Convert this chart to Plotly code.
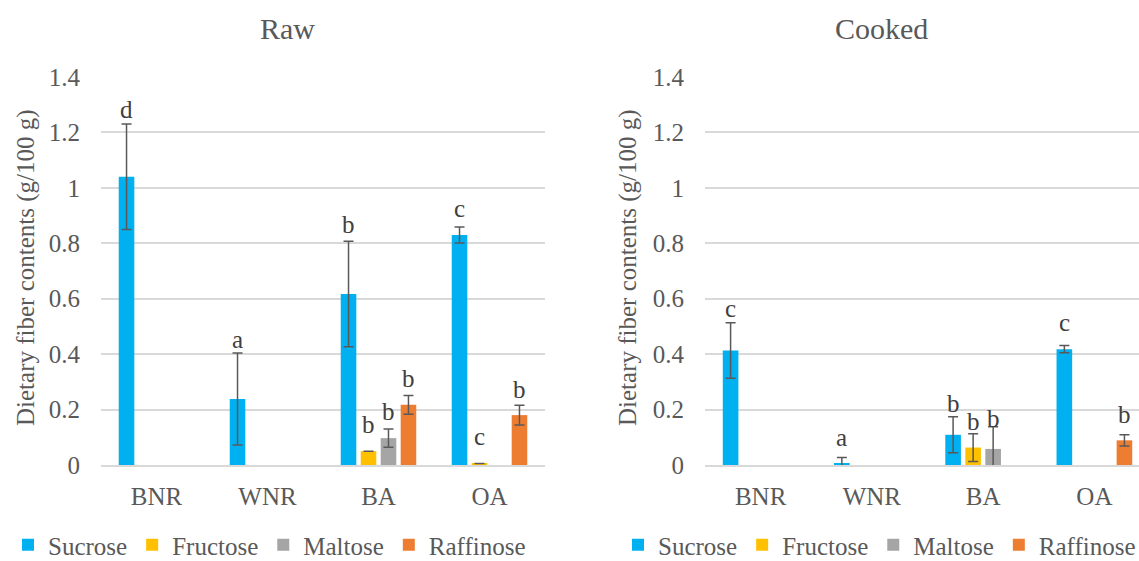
import plotly.graph_objects as go

categories = ["BNR", "WNR", "BA", "OA"]
series_names = ["Sucrose", "Fructose", "Maltose", "Raffinose"]
colors = ["#00B0F0", "#FFC000", "#A5A5A5", "#ED7D31"]

# Raw values (g/100 g) and standard deviations (None = not reported)
raw_sucrose = [1.04, 0.238, 0.617, 0.830]
raw_fructose = [None, None, 0.05, 0.005]
raw_maltose = [None, None, 0.097, None]
raw_raffinose = [None, None, 0.217, 0.180]
raw_sucrose_err = [0.19, 0.166, 0.19, 0.029]
raw_fructose_err = [None, None, None, None]
raw_maltose_err = [None, None, 0.033, None]
raw_raffinose_err = [None, None, 0.034, 0.036]

# Cooked values
cooked_sucrose = [0.413, 0.007, 0.109, 0.418]
cooked_fructose = [None, None, 0.063, None]
cooked_maltose = [None, None, 0.058, None]
cooked_raffinose = [None, None, None, 0.089]
cooked_sucrose_err = [0.10, 0.02, 0.065, 0.013]
cooked_fructose_err = [None, None, 0.05, None]
cooked_maltose_err = [None, None, 0.08, None]
cooked_raffinose_err = [None, None, None, 0.02]

# Significance letters: (category, series index, letter, baseline y)
raw_letters = [("BNR", 0, "d", 1.252), ("WNR", 0, "a", 0.422), ("BA", 0, "b", 0.837),
               ("BA", 1, "b", 0.115), ("BA", 2, "b", 0.162), ("BA", 3, "b", 0.28),
               ("OA", 0, "c", 0.895), ("OA", 1, "c", 0.072), ("OA", 3, "b", 0.242)]
cooked_letters = [("BNR", 0, "c", 0.533), ("WNR", 0, "a", 0.070), ("BA", 0, "b", 0.19),
                  ("BA", 1, "b", 0.125), ("BA", 2, "b", 0.136), ("OA", 0, "c", 0.483),
                  ("OA", 3, "b", 0.15)]

y_ticks = [0, 0.2, 0.4, 0.6, 0.8, 1.0, 1.2, 1.4]
y_tick_text = ["0", "0.2", "0.4", "0.6", "0.8", "1", "1.2", "1.4"]

W, H = 1139, 561
TXT = "#595959"
FONT = "Liberation Serif"

raw_vals = [raw_sucrose, raw_fructose, raw_maltose, raw_raffinose]
raw_errs = [raw_sucrose_err, raw_fructose_err, raw_maltose_err, raw_raffinose_err]
ck_vals = [cooked_sucrose, cooked_fructose, cooked_maltose, cooked_raffinose]
ck_errs = [cooked_sucrose_err, cooked_fructose_err, cooked_maltose_err, cooked_raffinose_err]

fig = go.Figure()
for i, name in enumerate(series_names):
    fig.add_trace(go.Bar(
        x=categories, y=raw_vals[i], name=name, marker_color=colors[i],
        marker_line_width=0, xaxis="x", yaxis="y", legend="legend",
        error_y=dict(type="data", array=raw_errs[i], visible=True,
                     color="#595959", thickness=1.5, width=5),
        offsetgroup=str(i),
    ))
for i, name in enumerate(series_names):
    fig.add_trace(go.Bar(
        x=categories, y=ck_vals[i], name=name, marker_color=colors[i],
        marker_line_width=0, xaxis="x2", yaxis="y2", legend="legend2",
        error_y=dict(type="data", array=ck_errs[i], visible=True,
                     color="#595959", thickness=1.5, width=5),
        offsetgroup=str(i),
    ))

x1_dom = [101 / W, 545 / W]
x2_dom = [705 / W, 1.0]
y_dom = [(H - 465) / H, (H - 77) / H]

group_frac = 0.72
slot = group_frac / 4
annotations = []
for letters, xref, yref in [(raw_letters, "x", "y"), (cooked_letters, "x2", "y2")]:
    for cat, si, letter, yb in letters:
        xpos = categories.index(cat) - group_frac / 2 + slot * (si + 0.5)
        annotations.append(dict(
            x=xpos, y=yb, xref=xref, yref=yref, text=letter, showarrow=False,
            yanchor="bottom", yshift=-7, font=dict(family=FONT, size=25, color="#404040"),
        ))

annotations += [
    dict(x=287 / W, y=1 - 28 / H, xref="paper", yref="paper", text="Raw", showarrow=False,
         xanchor="center", yanchor="middle", font=dict(family=FONT, size=30, color=TXT)),
    dict(x=881 / W, y=1 - 28 / H, xref="paper", yref="paper", text="Cooked", showarrow=False,
         xanchor="center", yanchor="middle", font=dict(family=FONT, size=30, color=TXT)),
    dict(x=26 / W, y=1 - 268 / H, xref="paper", yref="paper", text="Dietary fiber contents (g/100 g)",
         showarrow=False, textangle=-90, xanchor="center", yanchor="middle",
         font=dict(family=FONT, size=25, color=TXT)),
    dict(x=628 / W, y=1 - 268 / H, xref="paper", yref="paper", text="Dietary fiber contents (g/100 g)",
         showarrow=False, textangle=-90, xanchor="center", yanchor="middle",
         font=dict(family=FONT, size=25, color=TXT)),
]

xcommon = dict(type="category", showgrid=False, showline=True, linecolor="#D9D9D9", linewidth=1.5,
               ticks="", ticklabelstandoff=8, fixedrange=True, automargin=False,
               tickfont=dict(family=FONT, size=25, color=TXT))
ycommon = dict(range=[0, 1.4], tickvals=y_ticks, ticktext=y_tick_text, showgrid=True,
               gridcolor="#D9D9D9", gridwidth=1.5, zeroline=False, showline=False, ticks="",
               ticklabelstandoff=20, domain=y_dom, fixedrange=True, automargin=False,
               tickfont=dict(family=FONT, size=25, color=TXT))

legend_common = dict(orientation="h", yanchor="middle", y=(H - 545) / H, xanchor="left",
                     bgcolor="rgba(0,0,0,0)", itemclick=False, itemdoubleclick=False,
                     tracegroupgap=0, font=dict(family=FONT, size=25, color=TXT))

fig.update_layout(
    width=W, height=H, margin=dict(l=0, r=0, t=0, b=0, autoexpand=False),
    paper_bgcolor="white", plot_bgcolor="white",
    barmode="group", bargap=0.28, bargroupgap=0.22,
    showlegend=True,
    xaxis=dict(domain=x1_dom, range=[-0.5, 3.5], anchor="y", **xcommon),
    xaxis2=dict(domain=x2_dom, range=[-0.5, 3.5 - 11 / 111], anchor="y2", **xcommon),
    yaxis=dict(anchor="x", **ycommon),
    yaxis2=dict(anchor="x2", **ycommon),
    legend=dict(x=8 / W, **legend_common),
    legend2=dict(x=618 / W, **legend_common),
    annotations=annotations,
)

fig.write_html(
    "out.html",
    config={"displayModeBar": False},
    post_script="document.body.style.margin='0px';document.body.style.overflow='hidden';",
)
